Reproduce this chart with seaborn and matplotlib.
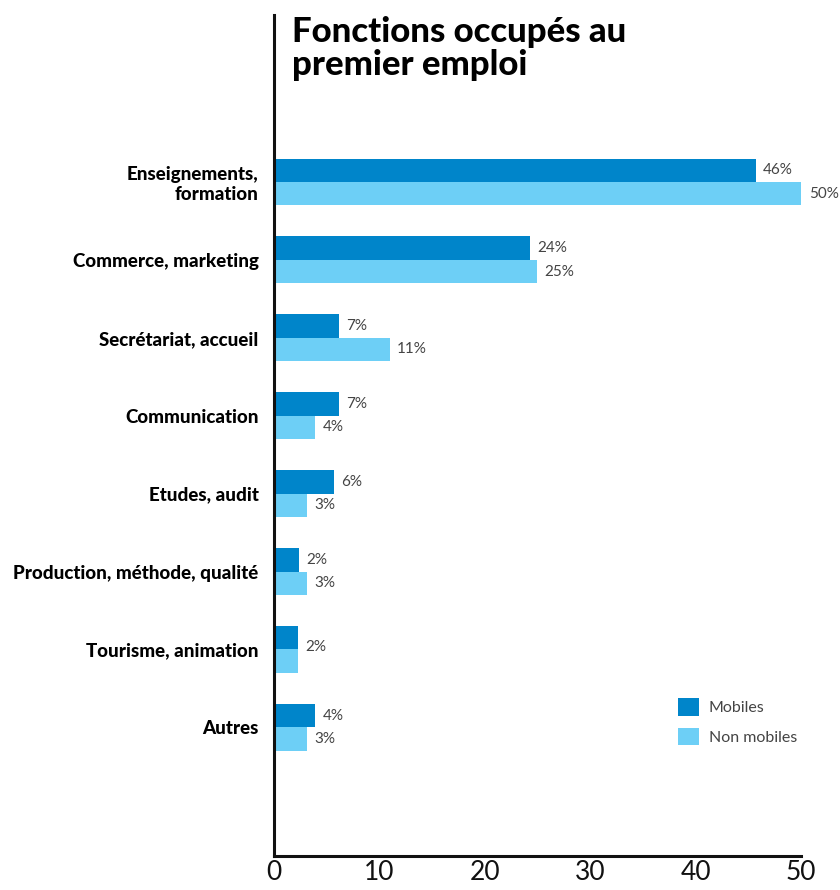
import matplotlib
matplotlib.use("Agg")
import matplotlib.pyplot as plt
import seaborn as sns
import pandas as pd
from matplotlib.patches import Patch

categories = ["Enseignements,\nformation", "Commerce, marketing", "Secrétariat, accueil",
              "Communication", "Etudes, audit", "Production, méthode, qualité",
              "Tourisme, animation", "Autres"]
mobiles = [45.7, 24.3, 6.2, 6.2, 5.7, 2.4, 2.3, 3.9]
non_mobiles = [50.1, 25.0, 11.0, 3.9, 3.1, 3.1, 2.3, 3.1]
mobiles_labels = ["46%", "24%", "7%", "7%", "6%", "2%", "", "4%"]
non_mobiles_labels = ["50%", "25%", "11%", "4%", "3%", "3%", "", "3%"]
shared_labels = ["", "", "", "", "", "", "2%", ""]
series = ["Mobiles", "Non mobiles"]
title = "Fonctions occupés au\npremier emploi"
xticks = [0, 10, 20, 30, 40, 50]

df = pd.DataFrame({
    "cat": categories * 2,
    "val": mobiles + non_mobiles,
    "serie": [series[0]] * len(categories) + [series[1]] * len(categories),
})

sns.set_theme(style="white")
plt.rcParams["font.family"] = ["Lato", "DejaVu Sans"]

fig = plt.figure(figsize=(8.4, 8.9), dpi=100)
ax = fig.add_axes([0.326, 0.0382, 0.6275, 0.9448])
palette = {"Mobiles": "#0085CA", "Non mobiles": "#6DCFF6"}
sns.barplot(data=df, y="cat", x="val", hue="serie", orient="h", palette=palette,
            width=0.6, ax=ax, saturation=1, legend=False, order=categories,
            linewidth=0, edgecolor="none")

ax.set_xlim(0, 50)
ax.set_ylim(8.65, -2.14)
ax.set_xlabel("")
ax.set_ylabel("")
ax.set_xticks(xticks)
ax.set_xticklabels([str(t) for t in xticks], fontsize=19, fontweight="normal", color="#111")
ax.tick_params(axis="x", direction="in", length=20, width=2, color="#111", pad=3)
ax.tick_params(axis="y", length=0, pad=11)
for lbl in ax.get_yticklabels():
    lbl.set_fontsize(13.5)
    lbl.set_fontweight("black")
    lbl.set_color("#000")
    lbl.set_ha("right")
    lbl.set_multialignment("right")
for s in ["top", "right"]:
    ax.spines[s].set_visible(False)
for s in ["left", "bottom"]:
    ax.spines[s].set_linewidth(2.2)
    ax.spines[s].set_color("#111")

for i in range(len(categories)):
    if mobiles_labels[i]:
        ax.text(mobiles[i] + 0.7, i - 0.15, mobiles_labels[i], va="center", ha="left",
                fontsize=11, fontweight="normal", color="#444")
    if non_mobiles_labels[i]:
        ax.text(non_mobiles[i] + 0.7, i + 0.15, non_mobiles_labels[i], va="center", ha="left",
                fontsize=11, fontweight="normal", color="#444")
    if shared_labels[i]:
        ax.text(max(mobiles[i], non_mobiles[i]) + 0.7, i - 0.03, shared_labels[i], va="center",
                ha="left", fontsize=11, fontweight="normal", color="#444")

fig.text(0.348, 0.982, title, ha="left", va="top", fontsize=25, fontweight="black",
         color="#000", linespacing=1.05)

handles = [Patch(facecolor=palette[s], edgecolor="none") for s in series]
leg = ax.legend(handles, series, loc="lower left", bbox_to_anchor=(0.74, 0.115),
                frameon=False, fontsize=11.5, handlelength=1.3, handleheight=1.3,
                handletextpad=0.6, labelspacing=0.75)
for t in leg.get_texts():
    t.set_color("#444")

fig.savefig("out.png", dpi=100)
